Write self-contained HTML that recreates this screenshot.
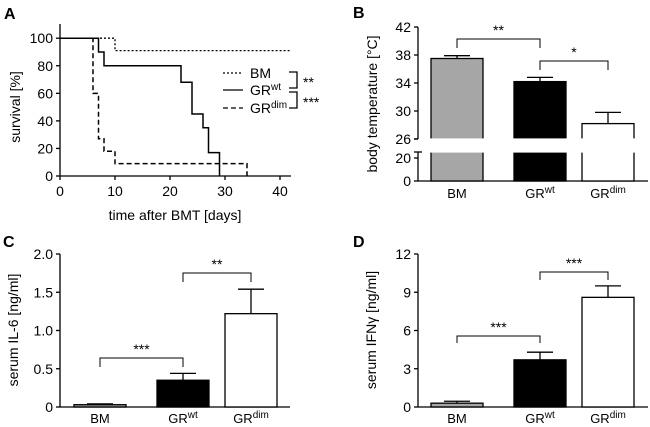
<!DOCTYPE html>
<html><head><meta charset="utf-8"><style>
body{margin:0;background:#fff;}
svg{display:block;font-family:"Liberation Sans",Arial,sans-serif;}
text{fill:#000;}
</style></head><body>
<svg id="fig" width="650" height="427" viewBox="0 0 650 427" xmlns="http://www.w3.org/2000/svg">
<g id="gA"></g>
<g id="gB"></g>
<g id="gC"></g>
<g id="gD"></g>
</svg>
<script>
// Panel A survival data
const bmDays=[0,10,42];
const bmSurv=[100,91,91];
const wtDays=[0,7,8,22,24,26,27,29];
const wtSurv=[100,90,80,68,45,35,17,0];
const dimDays=[0,6,7,8,10,34];
const dimSurv=[100,60,27,18,9,0];
const aXTicks=[0,10,20,30,40];
const aYTicks=[0,20,40,60,80,100];
// Panel B
const bCats=["BM","GR","GR"];
const bSups=["","wt","dim"];
const bVals=[37.5,34.2,28.2];
const bErrs=[0.4,0.6,1.6];
const bTicksTop=[26,30,34,38,42];
const bTicksBot=[0,20];
// Panel C
const cVals=[0.03,0.35,1.22];
const cErrs=[0.01,0.09,0.32];
const cTicks=[0,0.5,1.0,1.5,2.0];
const cTickLabels=["0","0.5","1.0","1.5","2.0"];
// Panel D
const dVals=[0.3,3.7,8.6];
const dErrs=[0.15,0.6,0.9];
const dTicks=[0,3,6,9,12];
const fills=["#a6a6a6","#000","#fff"];

const NS="http://www.w3.org/2000/svg";
function mk(p,tag,a,txt){const e=document.createElementNS(NS,tag);for(const k in a)e.setAttribute(k,a[k]);if(txt!==undefined)e.textContent=txt;p.appendChild(e);return e;}
function ln(p,x1,y1,x2,y2,extra){return mk(p,"line",Object.assign({x1,y1,x2,y2,stroke:"#000","stroke-width":1.3},extra||{}));}

// ---------- Panel A ----------
const A=document.getElementById("gA");
const ax=d=>60+d*5.5, ay=v=>176-v*1.378;
let t=mk(A,"text",{x:4,y:19,"font-size":16,"font-weight":"bold"},"A");

ln(A,60,24,60,176);ln(A,60,176,291,176);
aYTicks.forEach(v=>{ln(A,56,ay(v),60,ay(v));
 const e=mk(A,"text",{x:53,y:ay(v)+5,"font-size":14,"text-anchor":"end"},String(v));
 });
aXTicks.forEach(v=>{ln(A,ax(v),176,ax(v),180);
 const e=mk(A,"text",{x:ax(v),y:196,"font-size":14,"text-anchor":"middle"},String(v));
 });
t=mk(A,"text",{x:0,y:0,"font-size":14,"text-anchor":"middle",transform:"translate(20,107) rotate(-90)"},"survival [%]");

t=mk(A,"text",{x:175,y:220,"font-size":14,"text-anchor":"middle"},"time after BMT [days]");

function step(days,surv){let d="M"+ax(days[0])+","+ay(surv[0]);
 for(let i=1;i<days.length;i++){d+=" H"+ax(days[i])+" V"+ay(surv[i]);}
 return d;}
let p=mk(A,"path",{d:step(bmDays,bmSurv),fill:"none",stroke:"#000","stroke-width":1.3,"stroke-dasharray":"2,2"});

p=mk(A,"path",{d:step(wtDays,wtSurv),fill:"none",stroke:"#000","stroke-width":1.5});

p=mk(A,"path",{d:step(dimDays,dimSurv),fill:"none",stroke:"#000","stroke-width":1.5,"stroke-dasharray":"5,3"});

// legend
const lg=mk(A,"g",{});
ln(lg,223,73,243,73,{"stroke-dasharray":"2,2"});ln(lg,223,90,243,90);ln(lg,223,108,243,108,{"stroke-dasharray":"5,3"});
mk(lg,"text",{x:250,y:78,"font-size":14},"BM");
mk(lg,"text",{x:250,y:95,"font-size":14}).innerHTML='GR<tspan font-size="10" dy="-5">wt</tspan>';
mk(lg,"text",{x:250,y:113,"font-size":14}).innerHTML='GR<tspan font-size="10" dy="-5">dim</tspan>';
mk(lg,"path",{d:"M289,72 H297 V88 H289 M289,92 H297 V108 H289",fill:"none",stroke:"#000","stroke-width":1.3});
mk(lg,"text",{x:303,y:87,"font-size":14},"**");
mk(lg,"text",{x:303,y:107,"font-size":14},"***");

// ---------- Bar panel helpers ----------
const barX=[431,514,582], barW=52;
function bracket(G,x1,x2,top,leg,stars){mk(G,"path",{d:`M${x1},${leg} V${top} H${x2} V${leg}`,fill:"none",stroke:"#000","stroke-width":1});
 const e=mk(G,"text",{x:(x1+x2)/2,y:top-4,"font-size":14,"text-anchor":"middle"},stars);
 }

function simpleBars(G,xs,yAxisX,y,vals,errs,ticks,tickLbls,title,letter){
 let t=mk(G,"text",{x:letter[1],y:letter[2],"font-size":16,"font-weight":"bold"},letter[0]);
 
 ln(G,yAxisX,254,yAxisX,407);ln(G,yAxisX,407,yAxisX+230,407);
 ticks.forEach((v,i)=>{ln(G,yAxisX-4,y(v),yAxisX,y(v));
  const e=mk(G,"text",{x:yAxisX-7,y:y(v)+5,"font-size":14,"text-anchor":"end"},tickLbls[i]);
  });
 t=mk(G,"text",{x:0,y:0,"font-size":14,"text-anchor":"middle",transform:`translate(${yAxisX-42},330) rotate(-90)`});
 t.textContent=title;
 for(let i=0;i<3;i++){const cx=xs[i]+barW/2;
  ln(G,cx,y(vals[i]),cx,y(vals[i]+errs[i]));ln(G,cx-13,y(vals[i]+errs[i]),cx+13,y(vals[i]+errs[i]));
  const r=mk(G,"rect",{x:xs[i],y:y(vals[i]),width:barW,height:407-y(vals[i]),fill:fills[i],stroke:"#000","stroke-width":1.3});
  
  const e=mk(G,"text",{x:cx,y:423,"font-size":13,"text-anchor":"middle"});
  e.innerHTML=bCats[i]+(bSups[i]?'<tspan font-size="10" dy="-5">'+bSups[i]+'</tspan>':'');
  }
}

// ---------- Panel B ----------
const B=document.getElementById("gB");
const byT=v=>139-(v-26)*7, byB=v=>181-v*1.15;
t=mk(B,"text",{x:353,y:18,"font-size":16,"font-weight":"bold"},"B");

ln(B,418,27,418,139);ln(B,418,152,418,181);ln(B,418,181,648,181);
ln(B,414,139,418,139);ln(B,414,152,422,152);
bTicksTop.forEach(v=>{ln(B,414,byT(v),418,byT(v));
 const e=mk(B,"text",{x:411,y:byT(v)+5,"font-size":14,"text-anchor":"end"},String(v));
 });
bTicksBot.forEach(v=>{ln(B,414,byB(v),418,byB(v));
 const e=mk(B,"text",{x:411,y:byB(v)+5,"font-size":14,"text-anchor":"end"},String(v));
 });
t=mk(B,"text",{x:0,y:0,"font-size":14,"text-anchor":"middle",transform:"translate(377,104) rotate(-90)"},"body temperature [°C]");

for(let i=0;i<3;i++){const cx=barX[i]+barW/2,top=byT(bVals[i]),et=byT(bVals[i]+bErrs[i]);
 ln(B,cx,top,cx,et);ln(B,cx-13,et,cx+13,et);
 const r=mk(B,"rect",{x:barX[i],y:top,width:barW,height:181-top,fill:fills[i],stroke:"#000","stroke-width":1.3});
 
 mk(B,"rect",{x:barX[i]-2,y:138.4,width:barW+4,height:14.2,fill:"#fff"});
 const e=mk(B,"text",{x:cx,y:198,"font-size":13,"text-anchor":"middle"});
 e.innerHTML=bCats[i]+(bSups[i]?'<tspan font-size="10" dy="-5">'+bSups[i]+'</tspan>':'');
 }
bracket(B,457,540,39,48,"**");bracket(B,540,608,61,70,"*");

// ---------- Panel C ----------
const C=document.getElementById("gC");
const cy=v=>407-v*76.5;
simpleBars(C,[74,157,225],60,cy,cVals,cErrs,cTicks,cTickLabels,"serum IL-6 [ng/ml]",["C",3,247]);
bracket(C,100,183,358,367,"***");bracket(C,183,251,273,282,"**");

// ---------- Panel D ----------
const D=document.getElementById("gD");
const dy=v=>407-v*12.75;
simpleBars(D,barX,418,dy,dVals,dErrs,dTicks,dTicks.map(String),'serum IFNγ [ng/ml]',["D",353,247]);
bracket(D,457,540,336,343,"***");bracket(D,540,608,272,280,"***");
</script>
</body></html>
